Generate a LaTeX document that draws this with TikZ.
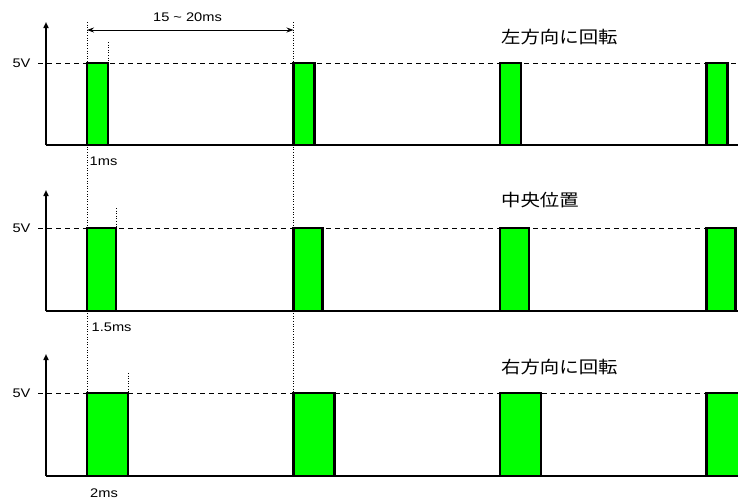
\documentclass[tikz,border=0pt]{standalone}
\usepackage{fontspec}
\setmainfont{Liberation Sans}
\newfontfamily\jpfont{Noto Sans CJK JP}
\usetikzlibrary{arrows.meta}
\definecolor{pulsegreen}{RGB}{0,255,0}
\tikzset{
  lbl/.style={inner sep=0pt, font=\fontsize{12.5}{14}\selectfont, xscale=1.17},
  ttl/.style={inner sep=0pt, anchor=west, font=\jpfont\fontsize{17}{20}\selectfont, xscale=1.14},
  pulse/.style={draw=black, line width=2.2pt, fill=pulsegreen},
  base/.style={line width=2.2pt},
  axis/.style={line width=1.5pt, -{Triangle[length=6pt,width=5pt]}},
  level/.style={line width=0.8pt, dash pattern=on 5pt off 4pt},
  guide/.style={line width=0.6pt, dotted},
  dim/.style={line width=0.9pt, {Stealth[length=7pt,width=5pt]}-{Stealth[length=7pt,width=5pt]}}
}
\begin{document}
\begin{tikzpicture}[x=1pt,y=-1pt]
\useasboundingbox (0,0) rectangle (738,499);
% long guides
\draw[guide] (87,22) -- (87,393);
\draw[guide] (293.5,22) -- (293.5,393);
\coordinate (dA) at (87,30);
\coordinate (dB) at (293.5,30);
\draw[dim] (dA) -- (dB);
\node[lbl] (period) at (187.5,17) {15 \char`\~{} 20ms};
% panels: baseline, level, axis top, pulse width, label
\foreach \yb/\yl/\yt/\w/\ys [count=\i] in {145/63/22/21/42, 311/228/190/29/208, 476/393/354/41/373}{
  \draw[level] (38,\yl) -- (738,\yl);
  \node[lbl] (v\i) at (21.5,\yl) {5V};
  \draw[base] (46,\yb) -- (738,\yb);
  \foreach \x in {87,293.5,500,706.5}{
    \draw[pulse] (\x,\yb) rectangle ++(\w,\yl-\yb);
  }
  \draw[guide] (87+\w,\ys) -- (87+\w,\yl);
  \draw[axis] (46,\yb) -- (46,\yt);
}
\node[lbl,anchor=west] (t1) at (89.5,161) {1ms};
\node[lbl,anchor=west] (t2) at (91.5,327) {1.5ms};
\node[lbl] (t3) at (104,493) {2ms};
\node[ttl] (n1) at (501,37) {左方向に回転};
\node[ttl] (n2) at (501,200) {中央位置};
\node[ttl] (n3) at (501,367) {右方向に回転};
\end{tikzpicture}
\end{document}
